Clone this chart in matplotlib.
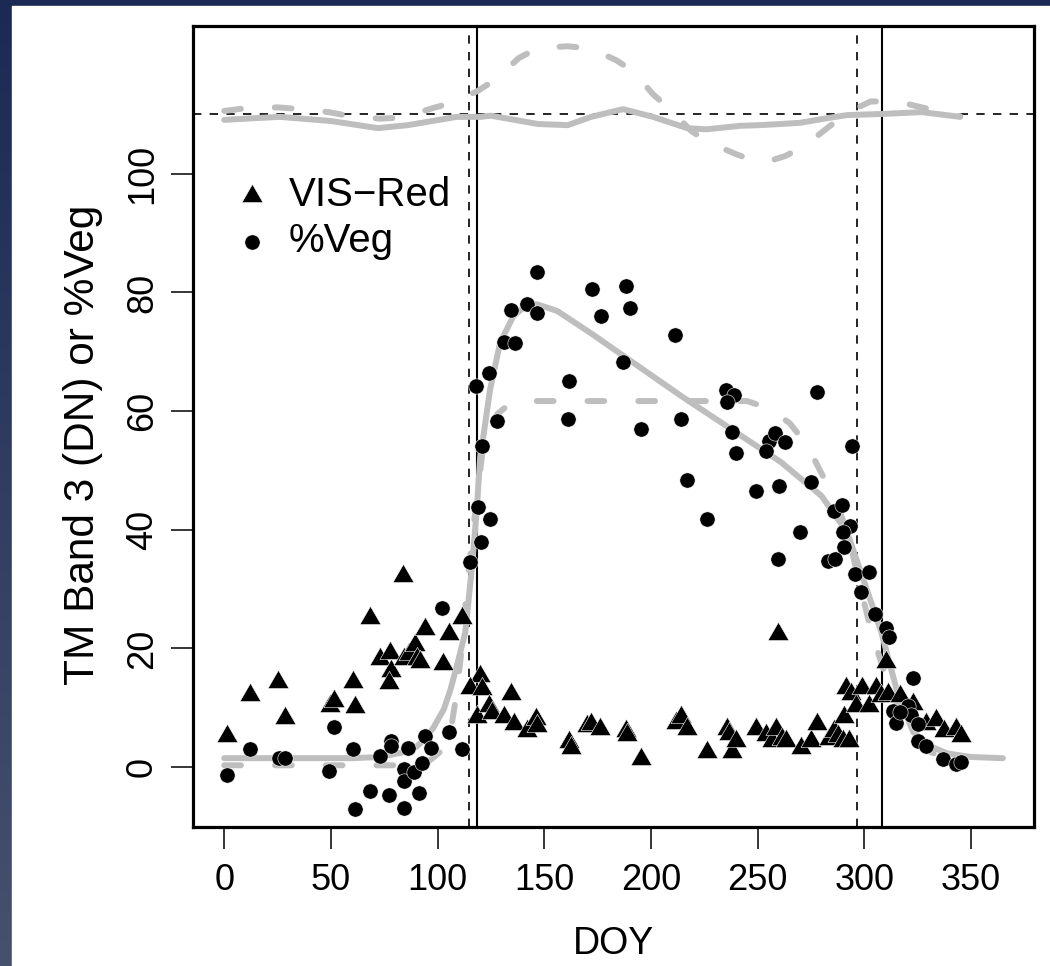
"""DOY time series of VIS-Red and %Veg with fitted curves."""
import numpy as np
import matplotlib
matplotlib.use("Agg")
import matplotlib.pyplot as plt
from matplotlib.path import Path
from matplotlib.patches import Rectangle
from matplotlib.colors import LinearSegmentedColormap

plt.rcParams["font.family"] = ["Liberation Sans", "DejaVu Sans"]

# --- data ---
red_doy = [1.3, 12.2, 25.2, 28.3, 49.7, 51.3, 61.2, 60.2, 68.2, 73.2, 77.9, 78.4, 77.4,
           84.1, 86.5, 89.6, 90.4, 92, 94.3, 102.4, 105.3, 111.5, 84.0,
           120.1, 115.4, 120.9, 118.6, 124, 125.6, 131, 134.2, 135.8, 142, 146, 146.7,
           161.6, 162.4, 170.2, 171.8, 176.1, 188.2, 189, 195.2, 211.6, 214, 217.1,
           226.2, 235.9, 236.7, 238.2, 239.8, 249.2, 253.9, 257, 258.6, 259.4, 261.7,
           263.3, 270.3, 275, 278.1, 283.6, 286, 287.5, 290.6, 289.9, 293, 291.4,
           293.8, 296.1, 299.2, 302.3, 305.5, 307.8, 310.2, 311, 317, 323, 329,
           333.6, 337.5, 343, 345.4]
red_val = [5.3, 12.1, 14.3, 8.3, 10.3, 11.2, 10.2, 14.3, 25.2, 18.2, 19.3, 16.2, 14.2,
           18.2, 19.1, 20.5, 18.2, 17.7, 23.3, 17.3, 22.4, 25.2, 32.2,
           15.4, 13.3, 13.2, 8.4, 10.3, 9.2, 8.4, 12.3, 7.3, 6.1, 8.1, 7.0,
           4.2, 3.3, 7.0, 7.3, 6.4, 6.1, 5.4, 1.3, 7.5, 8.4, 6.4,
           2.5, 6.4, 5.6, 2.5, 4.4, 6.4, 5.4, 4.4, 6.4, 22.4, 4.7,
           4.4, 3.3, 4.4, 7.3, 4.7, 6.1, 5.3, 8.4, 4.4, 4.4, 13.4,
           12.3, 10.3, 13.4, 10.3, 13.4, 12.0, 17.7, 12.3, 12.0, 10.6, 7.3,
           8.0, 6.1, 6.4, 5.3]

veg_doy = [1.3, 12.2, 25.5, 28.6, 51.3, 49.3, 60.2, 61.2, 68.2, 73.2, 77.1, 78.4, 78.4,
           84.1, 84.1, 84.1, 86.2, 88.8, 91.2, 92.5, 94, 96.7, 102.2, 105.3, 111.5,
           115, 120.4, 124.4, 118.9, 120.9, 128, 118.1, 124, 131.1, 136.2, 134.2,
           142, 146.4, 146.4, 161.6, 161.3, 172.5, 176.4, 188.2, 190.2, 187.1, 195.2,
           211.3, 214, 217.1, 226.2, 235.3, 239, 235.9, 238.2, 240.1, 249.2, 255.4,
           258.2, 253.9, 262.9, 260.1, 259.4, 270, 275, 278.1, 286, 289.4, 293.4,
           289.9, 290.6, 282.8, 286.2, 294.2, 295.6, 302.3, 298.5, 305, 310.2, 311.7,
           323, 320.3, 313.3, 314.9, 321.9, 325, 325, 329, 336.8, 343, 345.4, 317]
veg_val = [-1.3, 3.0, 1.6, 1.6, 6.8, -0.7, 3.0, -7.1, -4.1, 1.9, -4.7, 4.4, 3.6,
           -0.3, -2.3, -6.9, 3.2, -0.9, -4.4, 0.7, 5.3, 3.2, 26.8, 5.9, 3.0,
           34.5, 37.9, 41.9, 43.9, 54.2, 58.4, 64.3, 66.4, 71.6, 71.4, 77.1,
           78.1, 76.6, 83.5, 65.1, 58.7, 80.6, 76.1, 81.1, 77.3, 68.2, 57.0,
           72.9, 58.7, 48.4, 41.9, 63.6, 62.8, 61.5, 56.4, 52.9, 46.6, 54.9,
           56.3, 53.3, 54.8, 47.4, 35.0, 39.6, 48.1, 63.3, 43.2, 44.1, 40.7,
           39.7, 37.1, 34.7, 35.0, 54.1, 32.5, 32.9, 29.5, 25.8, 23.4, 21.9,
           15.0, 10.3, 9.5, 7.5, 8.7, 7.3, 4.4, 3.6, 1.3, 0.5, 0.8, 9.3]

# fitted curves
fit_doy = [0, 60, 73, 84, 90, 94, 98, 103, 106, 109, 113, 116, 118.4, 120, 121.5, 124.6,
           129.3, 135.5, 142, 146.6, 156, 171.6, 214, 261, 280, 292, 300, 308, 316, 323,
           331, 339, 350, 365]
fit_val = [1.5, 1.5, 1.7, 2.5, 3.4, 4.7, 6.6, 9.8, 13, 17, 22.7, 33.3, 43.4, 52.4, 55.8,
           63.6, 71.5, 76, 78, 78, 76.9, 73.2, 62.6, 51.4, 45.7, 39.6, 31.2, 22.8, 12,
           5.9, 3.5, 2.3, 1.7, 1.5]

step_doy = [0, 93, 97, 101, 105, 107, 109, 111, 113, 116, 119, 121, 124, 128, 133, 140,
            245, 255, 265, 273, 280, 287, 293, 298, 304, 310, 314, 320, 328, 336, 345]
step_val = [0.3, 0.3, 1.3, 2.5, 4.5, 8, 12.6, 19, 27, 38, 47, 53, 56.5, 59.5, 61, 61.7,
            61.7, 60.5, 58, 54.4, 49.5, 44.7, 38.5, 30.5, 22, 15.5, 12, 6.5, 3, 1.8, 1.3]

# curves drawn around the 110 reference line
top_solid_doy = [0, 26, 50, 72, 86, 109, 120, 125, 147, 161, 172, 187, 201, 217, 226,
                 242, 251, 261, 270, 283, 292, 309, 327, 345]
top_solid_val = [109.1, 109.6, 108.9, 107.7, 108.2, 109.6, 109.6, 109.8, 108.4, 108.2,
                 109.6, 110.9, 109.6, 107.7, 107.5, 108.1, 108.2, 108.4, 108.6, 109.4,
                 109.9, 110.1, 110.4, 109.6]
top_dash_doy = [0, 11, 25, 36, 49, 59, 73, 84, 97, 107, 119, 128, 138, 147, 161, 172,
                184, 192, 201, 209, 219, 227, 240, 250, 256, 263, 272, 283, 289, 296,
                303, 314, 320, 327, 345]
top_dash_val = [110.6, 111.1, 111.2, 110.9, 110.4, 109.7, 109.3, 109.5, 111, 112, 114,
                116.1, 119.5, 121.2, 121.5, 121.1, 119.1, 117.2, 113.4, 110.9, 107.2,
                105.3, 103.3, 102, 102.2, 103, 104.7, 107.8, 109.5, 111, 112.2, 112.2,
                111.8, 111.2, 109.7]

ref_level = 110
start_dates = [114.9, 296.8]   # dashed
end_dates = [118.6, 308.2]     # solid

x_ticks = [0, 50, 100, 150, 200, 250, 300, 350]
y_ticks = [0, 20, 40, 60, 80, 100]

# --- figure ---
W, H = 1050, 966
fig = plt.figure(figsize=(W / 100, H / 100), dpi=100)

# dark backdrop with a white panel
bg = fig.add_axes([0, 0, 1, 1], zorder=-10)
grad = np.linspace(0, 1, 256).reshape(-1, 1)
cmap = LinearSegmentedColormap.from_list("bg", ["#1b2a55", "#46516d"])
bg.imshow(grad, aspect="auto", cmap=cmap, extent=[0, 1, 0, 1], origin="upper")
bg.add_patch(Rectangle((12 / W, 0), 1, 1 - 6 / H, color="white"))
bg.set_xlim(0, 1)
bg.set_ylim(0, 1)
bg.axis("off")

ax = fig.add_axes([193.3 / W, 1 - 827 / H, (1034 - 193.3) / W, (827 - 25.5) / H])
ax.set_xlim(-14.5, 379.6)
ax.set_ylim(-10.1, 125.0)

gray = "#bebebe"
ax.plot(fit_doy, fit_val, color=gray, lw=4.3, solid_capstyle="round", zorder=3)
ax.plot(step_doy, step_val, color=gray, lw=4.3, dashes=(2.8, 5.7),
        dash_capstyle="round", zorder=3)
ax.plot(top_solid_doy, top_solid_val, color=gray, lw=4.3, solid_capstyle="round", zorder=3)
ax.plot(top_dash_doy, top_dash_val, color=gray, lw=4.3, dashes=(2.8, 5.7),
        dash_capstyle="round", zorder=3)

ax.axhline(ref_level, color="black", lw=1.2, dashes=(5, 5), zorder=2)
for d in start_dates:
    ax.axvline(d, color="black", lw=1.2, dashes=(5, 5), zorder=2)
for d in end_dates:
    ax.axvline(d, color="black", lw=1.5, zorder=2)

tri = Path([(-1, -0.577), (1, -0.577), (0, 1.155), (-1, -0.577)],
           [Path.MOVETO, Path.LINETO, Path.LINETO, Path.CLOSEPOLY])
h_red = ax.scatter(red_doy, red_val, marker=tri, s=17.5 ** 2, color="black",
                   edgecolors="white", linewidths=0.4, zorder=4, label="VIS\u2212Red")
h_veg = ax.scatter(veg_doy, veg_val, marker="o", s=11 ** 2, color="black",
                   edgecolors="white", linewidths=0.4, zorder=4, label="%Veg")

ax.legend(handles=[h_red, h_veg], loc="upper left", bbox_to_anchor=(0.046, 0.812),
          frameon=False, fontsize=29, borderpad=0, borderaxespad=0,
          handlelength=1.0, handletextpad=0.4, labelspacing=0.2)

ax.set_xticks(x_ticks)
ax.set_yticks(y_ticks)
ax.set_yticklabels([str(v) for v in y_ticks], rotation=90, va="center")
ax.tick_params(direction="out", length=16, width=1.1, labelsize=26)
ax.tick_params(axis="x", pad=10)
ax.tick_params(axis="y", pad=8)
for sp in ax.spines.values():
    sp.set_linewidth(2.3)

ax.set_xlabel("DOY", fontsize=27, labelpad=20)
ax.set_ylabel("TM Band 3 (DN) or %Veg", fontsize=30.5)
ax.yaxis.set_label_coords(-0.107, 0.477)

fig.savefig("out.png", dpi=100, facecolor=fig.get_facecolor())
